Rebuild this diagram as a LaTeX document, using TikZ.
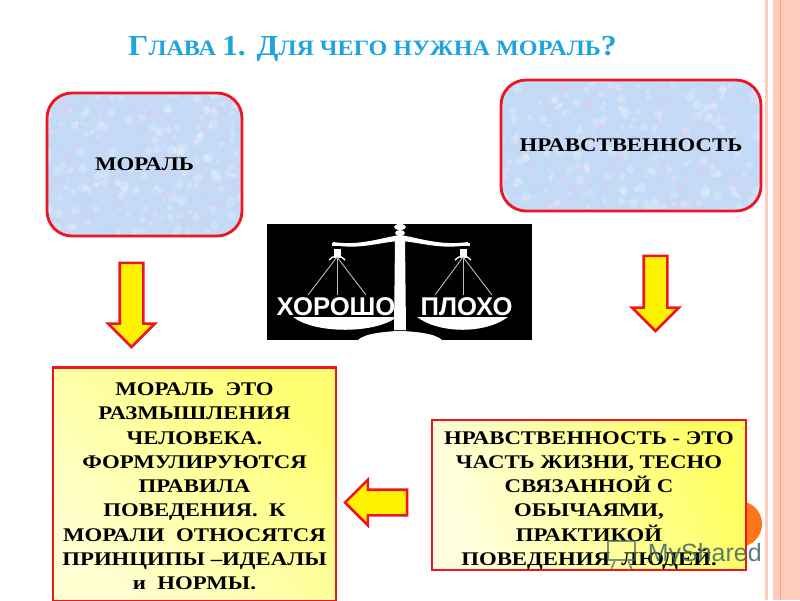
\documentclass[tikz,border=0pt]{standalone}
\usepackage{fontspec}
\setmainfont{Liberation Serif}
\newfontfamily\notefont[FakeStretch=1.18]{Liberation Serif}
\newfontfamily\titlefont[FakeStretch=1.1]{Liberation Serif}
\newfontfamily\scalefont{Liberation Sans}
\usetikzlibrary{shapes.arrows}
\usetikzlibrary{calc}

\definecolor{bandpink}{HTML}{FFCBBA}
\definecolor{bandline}{HTML}{FFA880}
\definecolor{boxred}{HTML}{EE1520}
\definecolor{titleblue}{HTML}{1FA5DC}
\definecolor{skyfill}{HTML}{C4DAF6}
\definecolor{softpink}{HTML}{E8C6EE}
\definecolor{softcyan}{HTML}{B8E2F6}
\definecolor{markgrey}{HTML}{3F6468}

\tikzset{
  mottled/.style={draw=boxred, line width=1.6pt, rounded corners=0.5cm, fill=skyfill,
    font=\notefont\bfseries\fontsize{11}{13}\selectfont,
    path picture={
      \foreach \i in {1,...,700} {
        \pgfmathsetmacro{\px}{rand*132}
        \pgfmathsetmacro{\py}{rand*74}
        \pgfmathsetmacro{\pr}{1.5+3.5*rnd}
        \pgfmathtruncatemacro{\pc}{mod(\i,3)}
        \ifnum\pc=0 \def\tone{softpink}\else\ifnum\pc=1 \def\tone{white}\else\def\tone{softcyan}\fi\fi
        \fill[\tone, opacity=0.22] ($(path picture bounding box.center)+(\px,\py)$) circle (\pr);
      }
    }},
  notebox/.style={draw=boxred, line width=1.5pt, align=center, inner sep=0pt,
    font=\notefont\bfseries\fontsize{11}{13.8}\selectfont},
  blockarrow/.style={single arrow, draw=boxred, line width=1.5pt, fill=yellow,
    inner xsep=0pt, inner ysep=0.21cm, single arrow head extend=0.23cm},
  scalepart/.style={fill=white, draw=none},
  scaleline/.style={draw=white!75!black, line width=0.5pt},
  scaleword/.style={text=white, inner sep=0pt, font=\scalefont\bfseries\fontsize{14.6}{16}\selectfont}
}

\begin{document}
\begin{tikzpicture}[x=0.02cm, y=-0.02cm]
\useasboundingbox (0,0) rectangle (800,600);
\clip (0,0) rectangle (800,600);

% side bands
\fill[bandpink] (765,0) rectangle (768,600);
\fill[bandpink] (773,0) rectangle (800,600);
\fill[bandline] (780,0) rectangle (780.7,600);

% orange spot behind the note
\fill[orange!80!red!90] (739,524) circle (23);

\node[text=titleblue, font=\titlefont\bfseries\fontsize{12.5}{15}\selectfont, anchor=base] (title) at (372.5,55)
  {{\fontsize{16.5}{15}\selectfont Г}ЛАВА {\fontsize{16.5}{15}\selectfont 1. Д}ЛЯ ЧЕГО НУЖНА МОРАЛЬ{\fontsize{16.5}{15}\selectfont ?}};

\pgfmathsetseed{11}
\node[mottled, minimum width=3.9cm, minimum height=2.86cm] (moral) at (144.5,164.5) {МОРАЛЬ};
\node[mottled, minimum width=5.2cm, minimum height=2.62cm] (nrav) at (631,145.5) {\raisebox{-1.7pt}{НРАВСТВЕННОСТЬ}};

% scales
\fill[black] (267,224) rectangle (532,340);
\fill[scalepart] (395,240) -- (405,240) -- (406,330) -- (394,330) -- cycle;
\fill[scalepart] (400,227) ellipse (6 and 3);
\fill[scalepart] (400,233) ellipse (5 and 3);
\fill[scalepart] (333,242) .. controls (360,246) and (380,238) .. (400,235)
   .. controls (420,238) and (440,246) .. (468,242)
   -- (468,245) .. controls (440,250) and (420,242) .. (400,241)
   .. controls (380,242) and (360,250) .. (333,245) -- cycle;
\fill[scalepart] (332,243) rectangle (342,246);
\fill[scalepart] (459,243) rectangle (470,246);
\fill[scalepart] (334,249) rectangle (341,258);
\fill[scalepart] (460,249) rectangle (467,258);
\draw[white, line width=0.8pt] (329,260) .. controls (332,255) and (342,255) .. (345,260);
\draw[white, line width=0.8pt] (455,260) .. controls (458,255) and (468,255) .. (471,260);
\coordinate (lefthook) at (337,257);
\coordinate (righthook) at (463,257);
\foreach \ex in {308,337,366} \draw[scaleline] (lefthook) -- (\ex,295);
\foreach \ex in {435,463,492} \draw[scaleline] (righthook) -- (\ex,295);
\fill[scalepart] (293,317) .. controls (315,334) and (375,334) .. (397,317) -- cycle;
\fill[scalepart] (417,317) .. controls (440,334) and (485,334) .. (508,317) -- cycle;
\fill[scalepart] (358,340) .. controls (365,333) and (385,332) .. (396,331) -- (404,331)
   .. controls (415,332) and (435,333) .. (442,340) -- cycle;
\node[scaleword] (good) at (336,307) {ХОРОШО};
\node[scaleword] (bad) at (466.5,307) {ПЛОХО};

% arrows
\node[blockarrow, rotate=-90, minimum height=1.68cm] (downleft) at (131.5,299) {};
\node[blockarrow, rotate=-90, minimum height=1.5cm] (downright) at (655.5,287.5) {};
\node[blockarrow, rotate=180, minimum height=1.24cm, inner ysep=0.23cm, single arrow head extend=0.2cm] (backarrow) at (382.5,502.5) {};

% notes
\node[notebox, minimum width=5.66cm, minimum height=4.68cm, top color=yellow!55, bottom color=yellow!18!white, shading angle=-45] (moralnote) at (194.5,484.5)
  {\rule{0pt}{9.5pt}МОРАЛЬ\ \ ЭТО\\ РАЗМЫШЛЕНИЯ\\ ЧЕЛОВЕКА.\\ ФОРМУЛИРУЮТСЯ\\ ПРАВИЛА\\ ПОВЕДЕНИЯ.\ \ К\\ МОРАЛИ\ \ ОТНОСЯТСЯ\\ ПРИНЦИПЫ –ИДЕАЛЫ\\ и\ \ НОРМЫ.};
\node[notebox, minimum width=6.28cm, minimum height=3cm, top color=yellow!62, bottom color=yellow!12!white, shading angle=-70] (nravnote) at (589,495)
  {\rule{0pt}{13.5pt}НРАВСТВЕННОСТЬ - ЭТО\\ ЧАСТЬ ЖИЗНИ, ТЕСНО\\ СВЯЗАННОЙ С\\ ОБЫЧАЯМИ,\\ ПРАКТИКОЙ\\ ПОВЕДЕНИЯ\ \ ЛЮДЕЙ.};

% watermark
\draw[markgrey, opacity=0.7, line width=1pt] (608,541) rectangle (635,560) (615,560) -- (611,570) (628,560) -- (632,570);
\node[text=markgrey, opacity=0.85, font=\scalefont\fontsize{14.2}{16}\selectfont, anchor=east, inner sep=0pt] (mark) at (762,555) {MyShared};

\end{tikzpicture}
\end{document}
